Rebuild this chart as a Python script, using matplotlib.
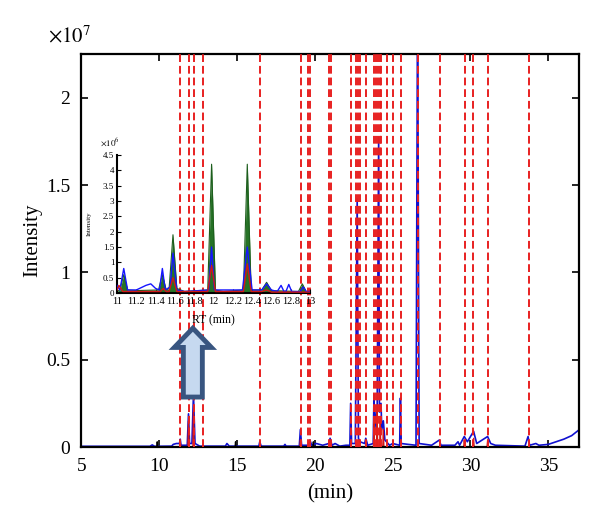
import matplotlib
matplotlib.use("Agg")
import matplotlib.pyplot as plt
from matplotlib.patches import FancyArrow

plt.rcParams['font.family'] = ['Liberation Serif', 'DejaVu Serif']
plt.rcParams['mathtext.fontset'] = 'stix'

# main chromatogram (intensity in units of 1e7)
rt_main = [5.0, 9.4, 9.55, 9.7, 10.8, 10.9, 11.1, 11.3, 11.35, 11.4, 11.8, 11.88, 11.95,
           12.1, 12.2, 12.3, 12.6, 14.25, 14.35, 14.5, 16.4, 16.46, 16.55, 18.0, 18.08,
           18.15, 19.0, 19.07, 19.15, 19.6, 19.68, 19.8, 20.1, 20.5, 20.9, 20.98, 21.1,
           21.3, 21.6, 22.0, 22.25, 22.3, 22.36, 22.6, 22.72, 22.8, 22.9, 23.2, 23.27,
           23.4, 23.75, 23.8, 23.85, 23.95, 24.0, 24.1, 24.15, 24.25, 24.3, 24.4, 24.5,
           24.6, 24.8, 25.0, 25.45, 25.5, 25.55, 26.0, 26.5, 26.6, 26.7, 27.5, 28.0, 28.1,
           29.0, 29.2, 29.3, 29.6, 29.8, 30.2, 30.4, 31.1, 31.3, 31.6, 33.5, 33.7, 33.8,
           34.2, 34.4, 35.0, 35.5, 36.0, 36.5, 37.0]
int_main = [0.004, 0.004, 0.012, 0.004, 0.005, 0.015, 0.02, 0.02, 0.045, 0.01, 0.01, 0.19, 0.02,
            0.02, 0.3, 0.02, 0.005, 0.005, 0.02, 0.005, 0.005, 0.03, 0.005, 0.005, 0.015,
            0.005, 0.005, 0.1, 0.01, 0.01, 0.04, 0.01, 0.02, 0.01, 0.02, 0.05, 0.01,
            0.02, 0.005, 0.01, 0.01, 0.25, 0.02, 0.02, 1.42, 0.05, 0.03, 0.02, 0.05,
            0.01, 0.02, 0.3, 0.1, 0.2, 0.12, 1.77, 0.2, 0.25, 0.1, 0.15, 0.04,
            0.03, 0.01, 0.02, 0.01, 0.28, 0.02, 0.015, 0.01, 2.6, 0.02, 0.01, 0.04, 0.01,
            0.01, 0.03, 0.01, 0.06, 0.03, 0.09, 0.02, 0.06, 0.02, 0.01, 0.005, 0.06, 0.01,
            0.02, 0.01, 0.015, 0.03, 0.045, 0.065, 0.1]

rt_red = [11.3, 11.35, 11.4, 11.84, 11.88, 11.92, 12.16, 12.2, 12.24, 19.03, 19.07, 19.11,
          23.76, 23.8, 23.84, 23.96, 24.0, 24.04, 24.16, 24.2, 24.24, 24.36, 24.4, 24.44,
          29.56, 29.6, 29.64, 30.16, 30.2, 30.24, 31.06, 31.1, 31.14]
int_red = [0.0, 0.03, 0.0, 0.0, 0.15, 0.0, 0.0, 0.2, 0.0, 0.0, 0.04, 0.0,
           0.0, 0.15, 0.0, 0.0, 0.2, 0.0, 0.0, 0.15, 0.0, 0.0, 0.1, 0.0,
           0.0, 0.04, 0.0, 0.0, 0.05, 0.0, 0.0, 0.04, 0.0]

rt_black = [9.84, 9.87, 9.9, 14.87, 14.9, 14.93, 19.87, 19.9, 19.93]
int_black = [0.0, 0.03, 0.0, 0.0, 0.03, 0.0, 0.0, 0.03, 0.0]

# marked retention times (dashed lines)
marked_rt = [11.35, 11.89, 12.21, 12.82, 16.46, 19.08, 19.56, 19.68, 20.93, 21.06,
             22.31, 22.67, 22.78, 22.89, 23.27, 23.81, 23.92, 24.03, 24.16, 24.28,
             24.61, 24.99, 25.53, 26.6, 28.02, 29.65, 30.18, 31.11, 33.73]

# inset (intensity in units of 1e6)
rt_green = [11.0, 11.03, 11.07, 11.11, 11.2, 11.43, 11.47, 11.51, 11.54, 11.58, 11.62, 11.7,
            11.94, 11.98, 12.02, 12.1, 12.31, 12.35, 12.39, 12.5, 12.55, 12.6, 12.88, 12.92,
            12.96, 13.0]
int_green = [0.05, 0.1, 0.6, 0.1, 0.08, 0.1, 0.6, 0.1, 0.15, 1.9, 0.15, 0.05,
             0.1, 4.2, 0.1, 0.05, 0.1, 4.2, 0.1, 0.1, 0.35, 0.08, 0.05, 0.3,
             0.05, 0.02]

rt_blue = [11.0, 11.03, 11.07, 11.11, 11.2, 11.3, 11.35, 11.4, 11.44, 11.47, 11.5, 11.55,
           11.58, 11.62, 11.7, 11.95, 11.98, 12.01, 12.3, 12.35, 12.4, 12.5, 12.55, 12.6,
           12.66, 12.7, 12.73, 12.75, 12.78, 12.81, 12.9, 12.93, 12.96, 13.0]
int_blue = [0.25, 0.1, 0.8, 0.1, 0.1, 0.25, 0.3, 0.15, 0.1, 0.8, 0.1, 0.2,
            1.3, 0.1, 0.05, 0.1, 1.5, 0.1, 0.1, 1.5, 0.1, 0.1, 0.3, 0.1,
            0.05, 0.25, 0.05, 0.05, 0.28, 0.05, 0.05, 0.2, 0.05, 0.05]

rt_red_in = [11.0, 11.02, 11.06, 11.1, 11.45, 11.48, 11.51, 11.54, 11.58, 11.62, 11.94, 11.98,
             12.02, 12.31, 12.35, 12.39, 12.5, 12.55, 12.6, 13.0]
int_red_in = [0.1, 0.25, 0.05, 0.05, 0.05, 0.15, 0.05, 0.05, 0.5, 0.05, 0.05, 0.9,
              0.05, 0.05, 0.95, 0.05, 0.05, 0.1, 0.03, 0.03]

inset_xticks = [11, 11.2, 11.4, 11.6, 11.8, 12, 12.2, 12.4, 12.6, 12.8, 13]
inset_yticks = [0, 0.5, 1, 1.5, 2, 2.5, 3, 3.5, 4, 4.5]

fig = plt.figure(figsize=(6, 5.28), dpi=100)
ax = fig.add_axes([0.1357, 0.1534, 0.83, 0.7443])

ax.plot(rt_main, int_main, color='#1010d0', lw=1.2, zorder=2)
ax.plot(rt_red, int_red, color='#d01818', lw=0.9, zorder=2)
ax.plot(rt_black, int_black, color='black', lw=0.9, zorder=2)
for t in marked_rt:
    ax.axvline(t, color='#e82020', lw=1.4, dashes=(4, 2), zorder=3)

ax.add_patch(FancyArrow(12.16, 0.286, 0, 0.394, width=1.22, head_width=2.38,
                        head_length=0.11, length_includes_head=True,
                        fc='#c6d9f0', ec='#385580', lw=3.5, zorder=4))

ax.set_xlim(5, 37)
ax.set_ylim(0, 2.25)
ax.set_xticks([5, 10, 15, 20, 25, 30, 35])
ax.set_yticks([0, 0.5, 1, 1.5, 2])
ax.set_yticklabels(['0', '0.5', '1', '1.5', '2'])
ax.tick_params(direction='in', length=5, width=1.2, labelsize=14, top=True, right=True, pad=8)
for s in ax.spines.values():
    s.set_linewidth(1.6)
ax.set_xlabel('(min)', fontsize=15)
ax.set_ylabel('Intensity', fontsize=15)
ax.xaxis.set_label_coords(0.5, -0.095)
ax.yaxis.set_label_coords(-0.078, 0.527)
fig.text(0.08, 1 - 37 / 528, r'$\times10^{7}$', fontsize=15, va='center', ha='left')

# inset
axi = fig.add_axes([0.195, 0.445, 0.3217, 0.2614])
axi.patch.set_alpha(0)
axi.fill_between(rt_green, int_green, color='#267326', lw=0, zorder=2)
axi.plot(rt_green, int_green, color='#1d5e1d', lw=0.8, zorder=2)
axi.plot(rt_blue, int_blue, color='#1515ff', lw=1.0, zorder=3)
axi.plot(rt_red_in, int_red_in, color='#d01818', lw=1.0, zorder=4)
axi.set_xlim(11, 13)
axi.set_ylim(0, 4.5)
axi.set_xticks(inset_xticks)
axi.set_xticklabels(['11', '11.2', '11.4', '11.6', '11.8', '12', '12.2', '12.4', '12.6', '12.8', '13'])
axi.set_yticks(inset_yticks)
axi.set_yticklabels(['0', '0.5', '1', '1.5', '2', '2.5', '3', '3.5', '4', '4.5'])
axi.spines['top'].set_visible(False)
axi.spines['right'].set_visible(False)
axi.spines['left'].set_linewidth(1.5)
axi.spines['bottom'].set_linewidth(1.5)
axi.tick_params(axis='x', direction='in', length=3, labelsize=7.5, pad=3)
axi.tick_params(axis='y', direction='in', length=3, labelsize=6.5, pad=2)
fig.text(110 / 600, 1 - 142 / 528, r'$\times10^{6}$', fontsize=6.5, va='center', ha='center')
fig.text(89 / 600, 1 - 224 / 528, 'Intensity', rotation=90, fontsize=5, va='center', ha='center')
fig.text(213 / 600, 1 - 320 / 528, 'RT (min)', fontsize=8.5, va='center', ha='center')

fig.savefig('out.png', dpi=100)
